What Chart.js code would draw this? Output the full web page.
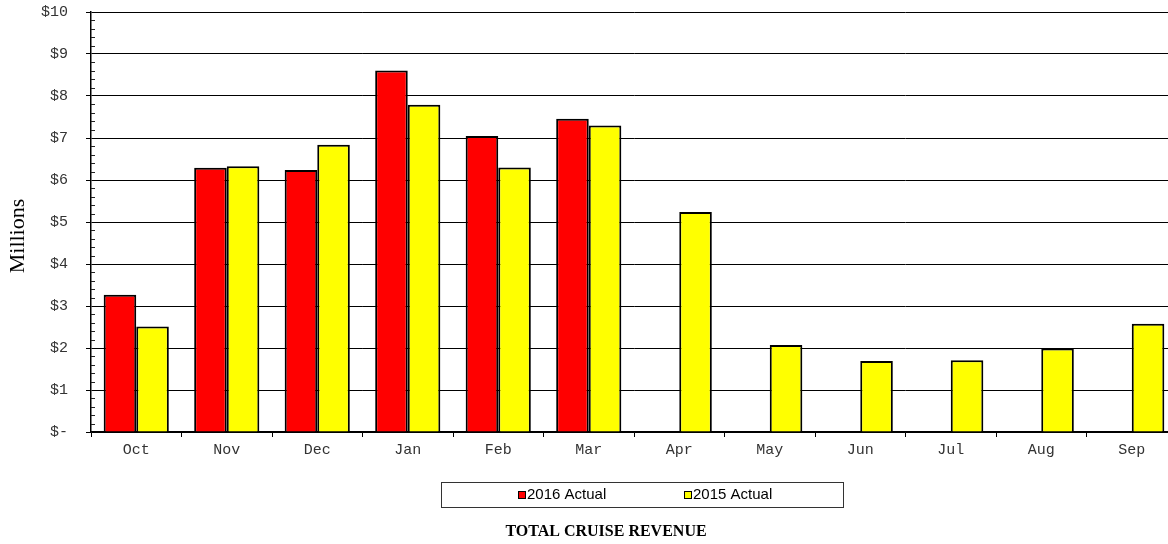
<!DOCTYPE html>
<html>
<head>
<meta charset="utf-8">
<script src="https://cdn.jsdelivr.net/npm/chart.js@4/dist/chart.umd.min.js"></script>
<style>
  html,body{margin:0;padding:0;background:#fff;overflow:hidden;}
  canvas{display:block;}
</style>
</head>
<body>
<canvas id="revChart" width="1177" height="544"></canvas>
<script>
const months = ['Oct','Nov','Dec','Jan','Feb','Mar','Apr','May','Jun','Jul','Aug','Sep'];
const actual2016 = [3.27, 6.29, 6.24, 8.61, 7.05, 7.46, null, null, null, null, null, null];
const actual2015 = [2.51, 6.33, 6.84, 7.79, 6.30, 7.30, 5.24, 2.07, 1.69, 1.71, 1.99, 2.58];
const yTicks = [0,1,2,3,4,5,6,7,8,9,10];
const yTickLabels = ['$-','$1','$2','$3','$4','$5','$6','$7','$8','$9','$10'];
const chartTitle = 'TOTAL CRUISE REVENUE';
const yTitle = 'Millions';

// small minor ticks inside the y axis, every 0.2
const minorTicks = {
  id:'minorTicks',
  afterDraw(chart){
    const y = chart.scales.y, ctx = chart.ctx, left = chart.chartArea.left;
    ctx.save();
    ctx.strokeStyle = '#222'; ctx.lineWidth = 1;
    for(let i=1;i<50;i++){
      if(i%5===0) continue;
      const py = Math.round(y.getPixelForValue(i*0.2)) + 0.5;
      ctx.beginPath(); ctx.moveTo(left, py); ctx.lineTo(left+4, py); ctx.stroke();
    }
    ctx.restore();
  }
};

// boxed legend, axis title and chart title
const boxLegend = {
  id:'boxLegend',
  afterDraw(chart){
    const ctx = chart.ctx;
    ctx.save();
    ctx.fillStyle = '#fff'; ctx.strokeStyle = '#333'; ctx.lineWidth = 1;
    ctx.fillRect(441.5, 482.5, 402, 25);
    ctx.strokeRect(441.5, 482.5, 402, 25);
    const xs = [518, 684];
    chart.data.datasets.forEach((ds,i)=>{
      ctx.fillStyle = ds.backgroundColor;
      ctx.fillRect(xs[i]+0.5, 491.5, 7, 7);
      ctx.strokeStyle = '#000';
      ctx.strokeRect(xs[i]+0.5, 491.5, 7, 7);
      ctx.fillStyle = '#000';
      ctx.font = '15px "Liberation Sans", Arial, sans-serif';
      ctx.textBaseline = 'middle'; ctx.textAlign = 'left';
      ctx.fillText(ds.label, xs[i]+9, 495);
    });
    ctx.font = 'bold 16px "Liberation Serif", "Times New Roman", serif';
    ctx.textAlign = 'center'; ctx.textBaseline = 'middle';
    ctx.fillText(chartTitle, 606, 532);

    ctx.translate(18, 236);
    ctx.rotate(-Math.PI/2);
    ctx.font = '22px "Liberation Serif", "Times New Roman", serif';
    ctx.fillText(yTitle, 0, 0);
    ctx.restore();
  }
};

new Chart(document.getElementById('revChart').getContext('2d'), {
  type:'bar',
  data:{
    labels: months,
    datasets:[
      { label:'2016 Actual', data: actual2016, backgroundColor:'#ff0000', borderColor:'#000', borderWidth:2 },
      { label:'2015 Actual', data: actual2015, backgroundColor:'#ffff00', borderColor:'#000', borderWidth:2 }
    ]
  },
  options:{
    responsive:false, animation:false,
    layout:{ padding:{ left:0, right:0, top:12, bottom:82 } },
    datasets:{ bar:{ categoryPercentage:0.72, barPercentage:1.0 } },
    plugins:{ legend:{ display:false }, title:{ display:false }, tooltip:{ enabled:false } },
    scales:{
      x:{
        afterFit(s){ s.height = 30; s.paddingLeft = 0; s.paddingRight = 0; },
        grid:{ offset:true, drawOnChartArea:false, drawTicks:true, tickLength:5, color:'#000' },
        border:{ color:'#000', width:1.5 },
        ticks:{ color:'#333', padding:4, font:{ family:'"Liberation Mono", "Courier New", monospace', size:15 } }
      },
      y:{
        min:0, max:10,
        afterFit(s){ s.width = 91; s.paddingTop = 0; s.paddingBottom = 0; },
        afterBuildTicks(s){ s.ticks = yTicks.map(v=>({ value:v })); },
        grid:{ color:'#000', lineWidth:1, tickLength:5 },
        border:{ color:'#000', width:1.5 },
        ticks:{
          color:'#333', padding:18,
          font:{ family:'"Liberation Mono", "Courier New", monospace', size:15 },
          callback:(v)=> yTickLabels[yTicks.indexOf(v)]
        }
      }
    }
  },
  plugins:[minorTicks, boxLegend]
});
</script>
</body>
</html>
